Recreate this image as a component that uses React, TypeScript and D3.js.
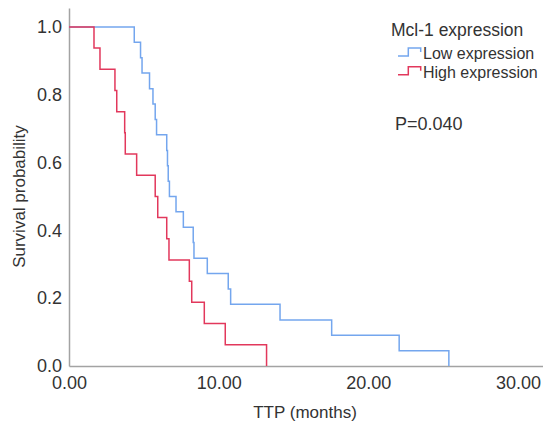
import React, { useEffect, useRef } from 'react';
import * as d3 from 'd3';

// Kaplan-Meier steps (time in months, survival after the drop)
const lowTimes = [4.36, 4.78, 4.88, 5.38, 5.61, 5.76, 5.85, 6.53, 6.58, 6.63, 6.71, 7.15, 7.64, 8.3, 8.35, 9.24, 10.64, 10.8, 14.1, 17.55, 22.06, 25.38];
const lowSurv = [0.955, 0.909, 0.864, 0.818, 0.773, 0.727, 0.682, 0.636, 0.591, 0.545, 0.5, 0.455, 0.409, 0.364, 0.318, 0.273, 0.227, 0.182, 0.136, 0.091, 0.045, 0];

const highTimes = [1.67, 2.07, 3.07, 3.19, 3.72, 3.76, 4.52, 5.76, 5.93, 6.53, 6.68, 8.04, 8.2, 9.04, 10.44, 13.2];
const highSurv = [0.938, 0.875, 0.813, 0.75, 0.688, 0.625, 0.563, 0.5, 0.438, 0.375, 0.313, 0.25, 0.188, 0.125, 0.063, 0];

const xTicks = [0, 10, 20, 30];
const yTicks = [0, 0.2, 0.4, 0.6, 0.8, 1.0];

const groups = [
  { name: 'Low expression', times: lowTimes, surv: lowSurv, color: '#74a6ee' },
  { name: 'High expression', times: highTimes, surv: highSurv, color: '#e2385c' },
];

const SurvivalChart = () => {
  const svgRef = useRef<SVGSVGElement>(null);

  useEffect(() => {
    const svg = d3.select(svgRef.current);
    svg.selectAll('*').remove();

    const width = 543;
    const height = 425;
    const font = 'Liberation Sans, Arial, Helvetica, sans-serif';

    svg.attr('width', width).attr('height', height);

    const x = d3.scaleLinear().domain([0, 31.67]).range([69, 543]);
    const y = d3.scaleLinear().domain([0, 1.056]).range([366, 8]);

    // Axes
    const xAxis = svg.append('g')
      .attr('transform', `translate(0,${y(0)})`)
      .call(d3.axisBottom(x).tickValues(xTicks).tickSize(0).tickSizeOuter(0).tickPadding(10).tickFormat(d => (d as number).toFixed(2)));
    xAxis.select('.domain').attr('stroke', '#a3a3a3').attr('stroke-width', 1.5);
    xAxis.selectAll('text').style('font-size', '18px').style('font-family', font).attr('fill', '#333');

    const yAxis = svg.append('g')
      .attr('transform', `translate(${x(0)},0)`)
      .call(d3.axisLeft(y).tickValues(yTicks).tickSize(0).tickSizeOuter(0).tickPadding(7).tickFormat(d => (d as number).toFixed(1)));
    yAxis.select('.domain').attr('stroke', '#a3a3a3').attr('stroke-width', 1.5);
    yAxis.selectAll('text').style('font-size', '18px').style('font-family', font).attr('fill', '#333');

    // Survival step curves
    groups.forEach(g => {
      const pts: [number, number][] = [[0, 1]];
      g.times.forEach((t, i) => pts.push([t, g.surv[i]]));
      const line = d3.line<[number, number]>()
        .x(d => x(d[0]))
        .y(d => y(d[1]))
        .curve(d3.curveStepAfter);
      svg.append('path')
        .datum(pts)
        .attr('d', line)
        .attr('fill', 'none')
        .attr('stroke', g.color)
        .attr('stroke-width', 1.5);
    });

    // Axis titles
    svg.append('text')
      .attr('x', 305)
      .attr('y', 418)
      .attr('text-anchor', 'middle')
      .style('font-size', '17px')
      .style('font-family', font)
      .attr('fill', '#333')
      .text('TTP (months)');

    svg.append('text')
      .attr('transform', `translate(25,${y(0.5)}) rotate(-90)`)
      .attr('text-anchor', 'middle')
      .style('font-size', '17px')
      .style('font-family', font)
      .attr('fill', '#333')
      .text('Survival probability');

    // Legend
    svg.append('text')
      .attr('x', 391)
      .attr('y', 36)
      .style('font-size', '17.5px')
      .style('font-family', font)
      .attr('fill', '#333')
      .text('Mcl-1 expression');

    groups.forEach((g, i) => {
      const base = 56 + i * 18.7;
      svg.append('path')
        .attr('d', `M398,${base} H408.3 V${base - 8} H420.7 V${base - 4}`)
        .attr('fill', 'none')
        .attr('stroke', g.color)
        .attr('stroke-width', 1.5);
      svg.append('text')
        .attr('x', 423)
        .attr('y', base + 3)
        .style('font-size', '16px')
        .style('font-family', font)
        .attr('fill', '#333')
        .text(g.name);
    });

    svg.append('text')
      .attr('x', 395)
      .attr('y', 130)
      .style('font-size', '18px')
      .style('font-family', font)
      .attr('fill', '#333')
      .text('P=0.040');
  }, []);

  return (
    <div style={{ position: 'absolute', left: 0, top: 0 }}>
      <svg ref={svgRef} style={{ display: 'block' }}></svg>
    </div>
  );
};

export default function App() {
  return <SurvivalChart />;
}
